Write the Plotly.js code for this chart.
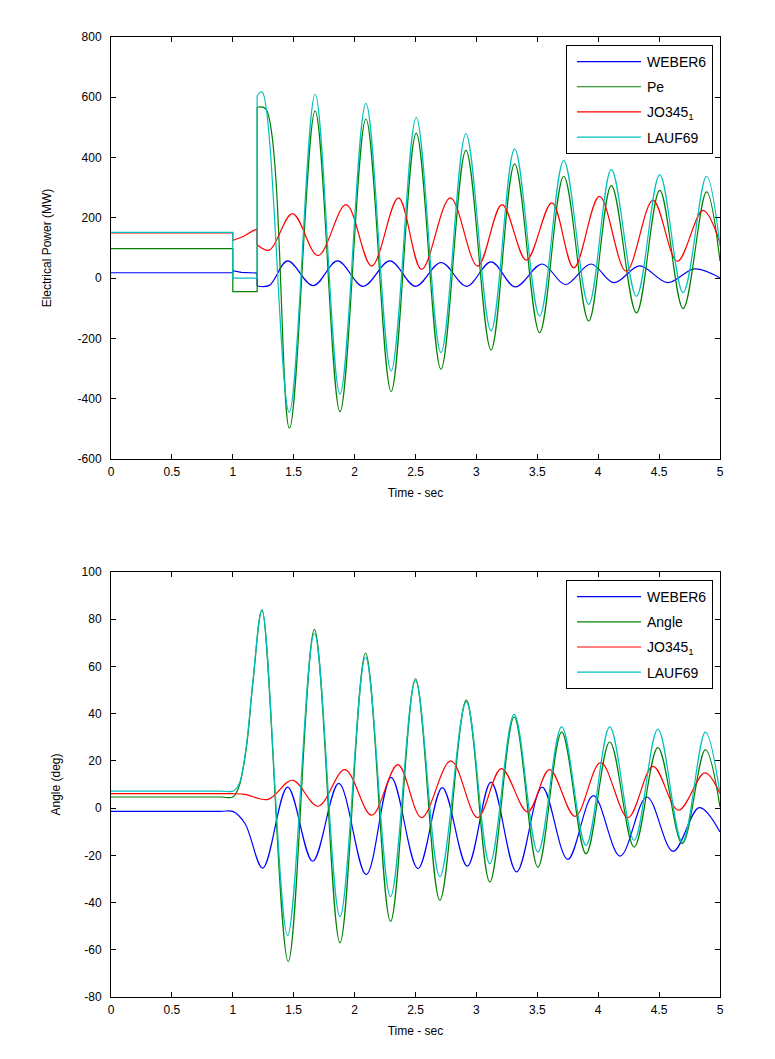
<!DOCTYPE html>
<html>
<head>
<meta charset="utf-8">
<script src="https://cdn.plot.ly/plotly-3.0.1.min.js"></script>
<style>
html,body{margin:0;padding:0;background:#fff;}
#chart{width:775px;height:1059px;}
</style>
</head>
<body>
<div id="chart"></div>
<script>
// ---------- Top plot: Electrical Power (MW) ----------
// pre-fault / fault segments (steps)
const tW6StepP = [0, 1, 1, 1.07, 1.2, 1.2];
const w6StepP  = [18, 18, 25, 19, 17, -26];
const tPeStep  = [0, 1, 1, 1.2, 1.2];
const peStep   = [98, 98, -45, -45, 567];
const tJoStepP = [0, 1, 1, 1.09, 1.16, 1.2, 1.2];
const joStepP  = [150, 150, 125, 139, 156, 163, 111];
const tLaStepP = [0, 1, 1, 1.2, 1.2];
const laStepP  = [152, 152, 0, 0, 605];

// post-fault oscillations
const tW6P = [1.2, 1.3, 1.45, 1.66, 1.86, 2.07, 2.29, 2.50, 2.71, 2.92, 3.12, 3.32, 3.54, 3.73, 3.94, 4.13, 4.34, 4.57, 4.79, 5.0];
const w6P  = [-26, -24, 57, -25, 57, -27, 57, -27, 52, -27, 54, -29, 47, -21, 47, -15, 41, -15, 31, 1];
const tPe  = [1.2, 1.27, 1.465, 1.676, 1.88, 2.093, 2.30, 2.506, 2.709, 2.914, 3.12, 3.314, 3.519, 3.717, 3.922, 4.108, 4.314, 4.505, 4.697, 4.889, 5.0];
const pe   = [567, 562, -498, 555, -443, 528, -376, 481, -302, 424, -238, 379, -181, 338, -142, 307, -115, 291, -101, 286, 56];
const tJoP = [1.2, 1.30, 1.49, 1.70, 1.93, 2.14, 2.36, 2.55, 2.786, 3.01, 3.21, 3.41, 3.62, 3.80, 4.01, 4.23, 4.45, 4.65, 4.86, 5.0];
const joP  = [111, 93, 214, 75, 244, 40, 266, 29, 266, 40, 244, 60, 250, 34, 271, 23, 258, 56, 225, 117];
const tLaP = [1.2, 1.24, 1.463, 1.676, 1.88, 2.093, 2.30, 2.506, 2.709, 2.914, 3.12, 3.314, 3.519, 3.717, 3.922, 4.108, 4.314, 4.505, 4.697, 4.889, 5.0];
const laP  = [605, 618, -445, 610, -385, 580, -308, 533, -247, 479, -175, 429, -126, 390, -87, 360, -60, 343, -48, 338, 106];

// ---------- Bottom plot: Angle (deg) ----------
const tW6A = [0, 0.9, 1.0, 1.1, 1.246, 1.45, 1.656, 1.87, 2.095, 2.30, 2.52, 2.72, 2.925, 3.12, 3.33, 3.54, 3.75, 3.96, 4.18, 4.40, 4.615, 4.83, 5.0];
const w6A  = [-1.4, -1.4, -1.4, -6.5, -25.4, 8.9, -22.5, 10.5, -28.2, 13, -25.6, 8.7, -24.6, 11, -27, 8.9, -21.7, 5.3, -20.3, 4.7, -18.3, 0.2, -10.1];
const tAng = [0, 0.9, 1.0, 1.05, 1.11, 1.165, 1.24, 1.455, 1.67, 1.88, 2.09, 2.295, 2.50, 2.70, 2.917, 3.11, 3.31, 3.505, 3.70, 3.90, 4.095, 4.295, 4.49, 4.69, 4.88, 5.0];
const ang  = [4.7, 4.7, 4.7, 9, 25, 53, 84, -65, 75.7, -57, 65.7, -48, 54.8, -39, 45.7, -31.3, 38.6, -25, 32.2, -19.3, 28, -16.5, 25.6, -15, 24.8, 0.5];
const tJoA = [0, 0.9, 1.0, 1.1, 1.29, 1.49, 1.70, 1.92, 2.14, 2.355, 2.55, 2.79, 3.01, 3.205, 3.42, 3.60, 3.81, 4.02, 4.245, 4.45, 4.66, 4.875, 5.0];
const joA  = [6.1, 6.1, 6.1, 5.8, 3.7, 11.8, 0.8, 16.3, -3, 18.4, -4, 20, -4, 16.7, -1.6, 16.3, -3.5, 19.3, -4, 17.7, -0.9, 14.9, 6.1];
const tLaA = [0, 0.9, 1.0, 1.05, 1.11, 1.165, 1.24, 1.45, 1.67, 1.88, 2.09, 2.295, 2.50, 2.70, 2.917, 3.11, 3.31, 3.505, 3.70, 3.90, 4.095, 4.295, 4.49, 4.69, 4.88, 5.0];
const laA  = [7.2, 7.2, 7.2, 10, 26, 54, 84, -54, 74, -46, 64, -37.5, 54, -29, 45, -23.5, 39.7, -18.6, 34.4, -15.8, 34.4, -13.6, 33.4, -14.4, 32.2, 6];

// ---------- Tick labels ----------
const xTickVals = [0, 0.5, 1, 1.5, 2, 2.5, 3, 3.5, 4, 4.5, 5];
const xTickText = ["0", "0.5", "1", "1.5", "2", "2.5", "3", "3.5", "4", "4.5", "5"];
const yTopTickVals = [-600, -400, -200, 0, 200, 400, 600, 800];
const yTopTickText = ["-600", "-400", "-200", "0", "200", "400", "600", "800"];
const yBotTickVals = [-80, -60, -40, -20, 0, 20, 40, 60, 80, 100];
const yBotTickText = ["-80", "-60", "-40", "-20", "0", "20", "40", "60", "80", "100"];

const names = ["WEBER6", "Pe", "JO345<sub>1</sub>", "LAUF69"];
const namesB = ["WEBER6", "Angle", "JO345<sub>1</sub>", "LAUF69"];
const colors = ["#0000FF", "#008000", "#FF0000", "#00BFBF"];

const LW = 1.2;
function seg(x, y, i, name, show, xa, ya, leg, shape) {
  return {
    x: x, y: y, type: "scatter", mode: "lines", name: name,
    legendgroup: leg + i, showlegend: show, legend: leg,
    xaxis: xa, yaxis: ya,
    line: {color: colors[i], width: LW, shape: shape, smoothing: 1},
    hoverinfo: "skip"
  };
}

const data = [
  seg(tW6StepP, w6StepP, 0, names[0], true, "x", "y", "legend", "linear"),
  seg(tW6P, w6P, 0, names[0], false, "x", "y", "legend", "spline"),
  seg(tPeStep, peStep, 1, names[1], true, "x", "y", "legend", "linear"),
  seg(tPe, pe, 1, names[1], false, "x", "y", "legend", "spline"),
  seg(tJoStepP, joStepP, 2, names[2], true, "x", "y", "legend", "linear"),
  seg(tJoP, joP, 2, names[2], false, "x", "y", "legend", "spline"),
  seg(tLaStepP, laStepP, 3, names[3], true, "x", "y", "legend", "linear"),
  seg(tLaP, laP, 3, names[3], false, "x", "y", "legend", "spline"),

  seg(tW6A, w6A, 0, namesB[0], true, "x2", "y2", "legend2", "spline"),
  seg(tAng, ang, 1, namesB[1], true, "x2", "y2", "legend2", "spline"),
  seg(tJoA, joA, 2, namesB[2], true, "x2", "y2", "legend2", "spline"),
  seg(tLaA, laA, 3, namesB[3], true, "x2", "y2", "legend2", "spline")
];

const FONT = "Liberation Sans, Arial, sans-serif";
function xax(anchor, dom) {
  return {
    domain: dom, anchor: anchor, range: [0, 5], autorange: false,
    tickmode: "array", tickvals: xTickVals, ticktext: xTickText,
    ticks: "inside", ticklen: 5, tickcolor: "#000", mirror: "ticks",
    showline: true, linecolor: "#000", linewidth: 1,
    showgrid: false, zeroline: false, automargin: false,
    tickfont: {family: FONT, size: 12, color: "#000"},
    ticklabelstandoff: 2,
    title: {text: "Time - sec", font: {family: FONT, size: 12, color: "#000"}, standoff: 10}
  };
}
function yax(anchor, dom, range, tv, tt, title, so) {
  return {
    domain: dom, anchor: anchor, range: range, autorange: false,
    tickmode: "array", tickvals: tv, ticktext: tt,
    ticks: "inside", ticklen: 5, tickcolor: "#000", mirror: "ticks",
    showline: true, linecolor: "#000", linewidth: 1,
    showgrid: false, zeroline: false, automargin: false,
    tickfont: {family: FONT, size: 12, color: "#000"},
    ticklabelstandoff: 6,
    title: {text: title, font: {family: FONT, size: 12, color: "#000"}, standoff: so}
  };
}
const ITEMW = 70;
function leg(ytop) {
  return {
    x: 0.9885, xanchor: "right", y: ytop, yanchor: "top",
    bgcolor: "#fff", bordercolor: "#000", borderwidth: 1,
    font: {family: FONT, size: 14, color: "#000"},
    itemwidth: ITEMW, tracegroupgap: 4
  };
}

const layout = {
  width: 775, height: 1059,
  margin: {l: 111, r: 55, t: 37, b: 62, pad: 0},
  paper_bgcolor: "#fff", plot_bgcolor: "#fff",
  font: {family: FONT, size: 12, color: "#000"},
  xaxis: xax("y", [0, 1]),
  yaxis: yax("x", [0.5604, 1], [-600, 800], yTopTickVals, yTopTickText, "Electrical Power (MW)", 23),
  xaxis2: xax("y2", [0, 1]),
  yaxis2: yax("x2", [0, 0.4427], [-80, 100], yBotTickVals, yBotTickText, "Angle (deg)", 18),
  legend: leg(0.9917),
  legend2: leg(0.4344),
  showlegend: true
};

Plotly.newPlot("chart", data, layout, {displayModeBar: false, staticPlot: true}).then(function (gd) {
  // lengthen the legend line samples (MATLAB-style long legend lines)
  gd.querySelectorAll(".legendlines path").forEach(function (p) {
    p.setAttribute("d", "M10,0h" + (ITEMW - 6));
  });
});
</script>
</body>
</html>
